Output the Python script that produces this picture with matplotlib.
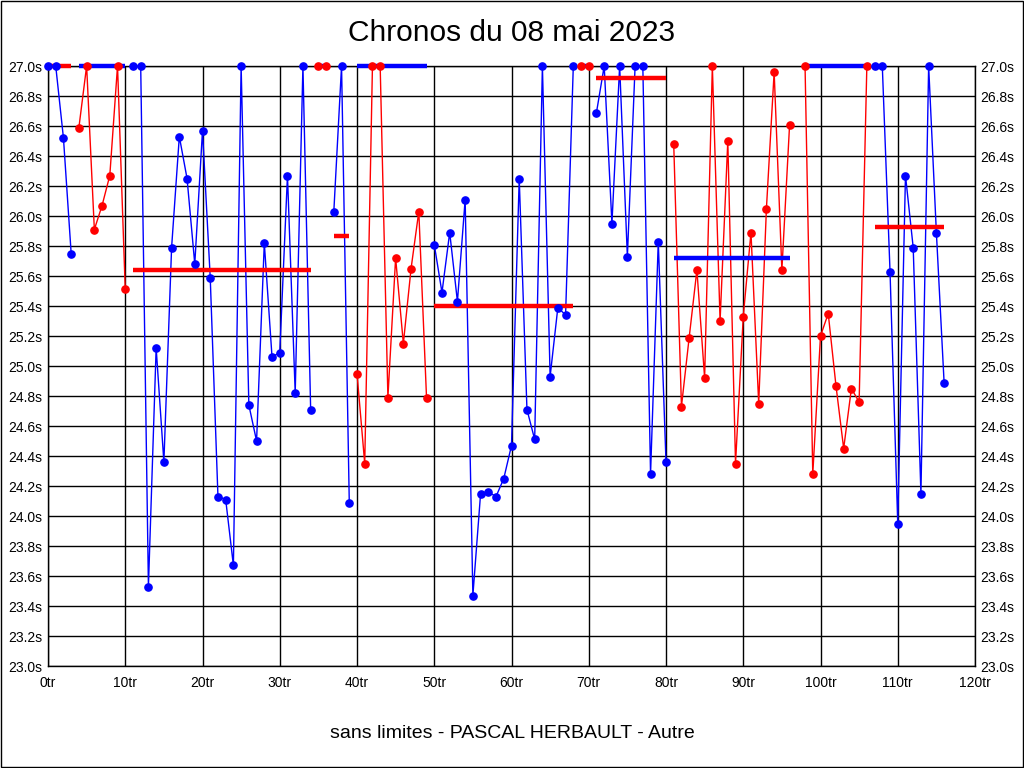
import matplotlib
matplotlib.use("Agg")
import matplotlib.pyplot as plt
import numpy as np

plt.rcParams['font.family'] = ['Liberation Sans', 'DejaVu Sans']

TITLE = "Chronos du 08 mai 2023"
FOOTER = "sans limites - PASCAL HERBAULT - Autre"

# Stints: first lap, color, lap times (values > 27.0 shown clipped at 27.0)
stint_start = [0, 4, 11, 35, 37, 40, 50, 69, 71, 81, 98, 107]
stint_color = ['blue', 'red', 'blue', 'red', 'blue', 'red', 'blue', 'red', 'blue', 'red', 'red', 'blue']
stint_times = [
    [27.0, 27.0, 26.52, 25.75],
    [26.59, 27.0, 25.91, 26.07, 26.27, 27.0, 25.51],
    [27.0, 27.0, 23.53, 25.12, 24.36, 25.79, 26.53, 26.25, 25.68, 26.57, 25.59, 24.13,
     24.11, 23.67, 27.0, 24.74, 24.50, 25.82, 25.06, 25.09, 26.27, 24.82, 27.0, 24.71],
    [27.0, 27.0],
    [26.03, 27.0, 24.09],
    [24.95, 24.35, 27.0, 27.0, 24.79, 25.72, 25.15, 25.65, 26.03, 24.79],
    [25.81, 25.49, 25.89, 25.43, 26.11, 23.47, 24.15, 24.16, 24.13, 24.25, 24.47, 26.25,
     24.71, 24.51, 27.0, 24.93, 25.39, 25.34, 27.0],
    [27.0, 27.0],
    [26.69, 27.0, 25.95, 27.0, 25.73, 27.0, 27.0, 24.28, 25.83, 24.36],
    [26.48, 24.73, 25.19, 25.64, 24.92, 27.0, 25.30, 26.50, 24.35, 25.33, 25.89, 24.75,
     26.05, 26.96, 25.64, 26.61],
    [27.0, 24.28, 25.20, 25.35, 24.87, 24.45, 24.85, 24.76, 27.0],
    [27.0, 27.0, 25.63, 23.95, 26.27, 25.79, 24.15, 27.0, 25.89, 24.89],
]
# Stint average (clipped at 27.0) and its line color
stint_avg = [27.0, 27.0, 25.64, 27.0, 25.87, 27.0, 25.40, 27.0, 26.92, 25.72, 27.0, 25.93]
avg_color = ['red', 'blue', 'red', 'blue', 'red', 'blue', 'red', 'blue', 'red', 'blue', 'blue', 'red']

y_ticks = [round(23.0 + 0.2 * i, 1) for i in range(21)]
x_ticks = list(range(0, 121, 10))

fig = plt.figure(figsize=(10.24, 7.68), dpi=100)
ax = fig.add_axes([48 / 1024, 102 / 768, 927 / 1024, 600 / 768])

col = {'blue': '#0000ff', 'red': '#ff0000'}

for start, c, times, avg, ac in zip(stint_start, stint_color, stint_times, stint_avg, avg_color):
    laps = np.arange(start, start + len(times))
    ax.plot(laps, times, color=col[c], lw=1.0, zorder=3, clip_on=False)
    ax.plot([laps[0], laps[-1]], [avg, avg], color=col[ac], lw=3.2,
            solid_capstyle='butt', zorder=4, clip_on=False)
    ax.plot(laps, times, linestyle='none', marker='o', markersize=5.2,
            color=col[c], zorder=5, clip_on=False)

ax.set_xlim(0, 120)
ax.set_ylim(23.0, 27.0)
ax.set_xticks(x_ticks)
ax.set_xticklabels([f"{v}tr" for v in x_ticks])
ax.set_yticks(y_ticks)
ax.set_yticklabels([f"{v:.1f}s" for v in y_ticks])
ax.tick_params(axis='both', length=0, labelsize=10, colors='black')
ax.tick_params(axis='y', pad=4, labelright=True, right=False)
ax.tick_params(axis='x', pad=7)
ax.grid(True, color='black', linewidth=1.0)
ax.set_axisbelow(True)
for s in ax.spines.values():
    s.set_color('black')
    s.set_linewidth(1.0)

fig.text(0.5, 1 - 33 / 768, TITLE, ha='center', va='center', fontsize=21.5)
fig.text(0.5, 1 - 733 / 768, FOOTER, ha='center', va='center', fontsize=14)

fig.patches.append(plt.Rectangle((0.0005, 0.0007), 0.999, 0.9986, transform=fig.transFigure,
                                 fill=False, edgecolor='black', linewidth=1.0))

fig.savefig("out.png", dpi=100)
